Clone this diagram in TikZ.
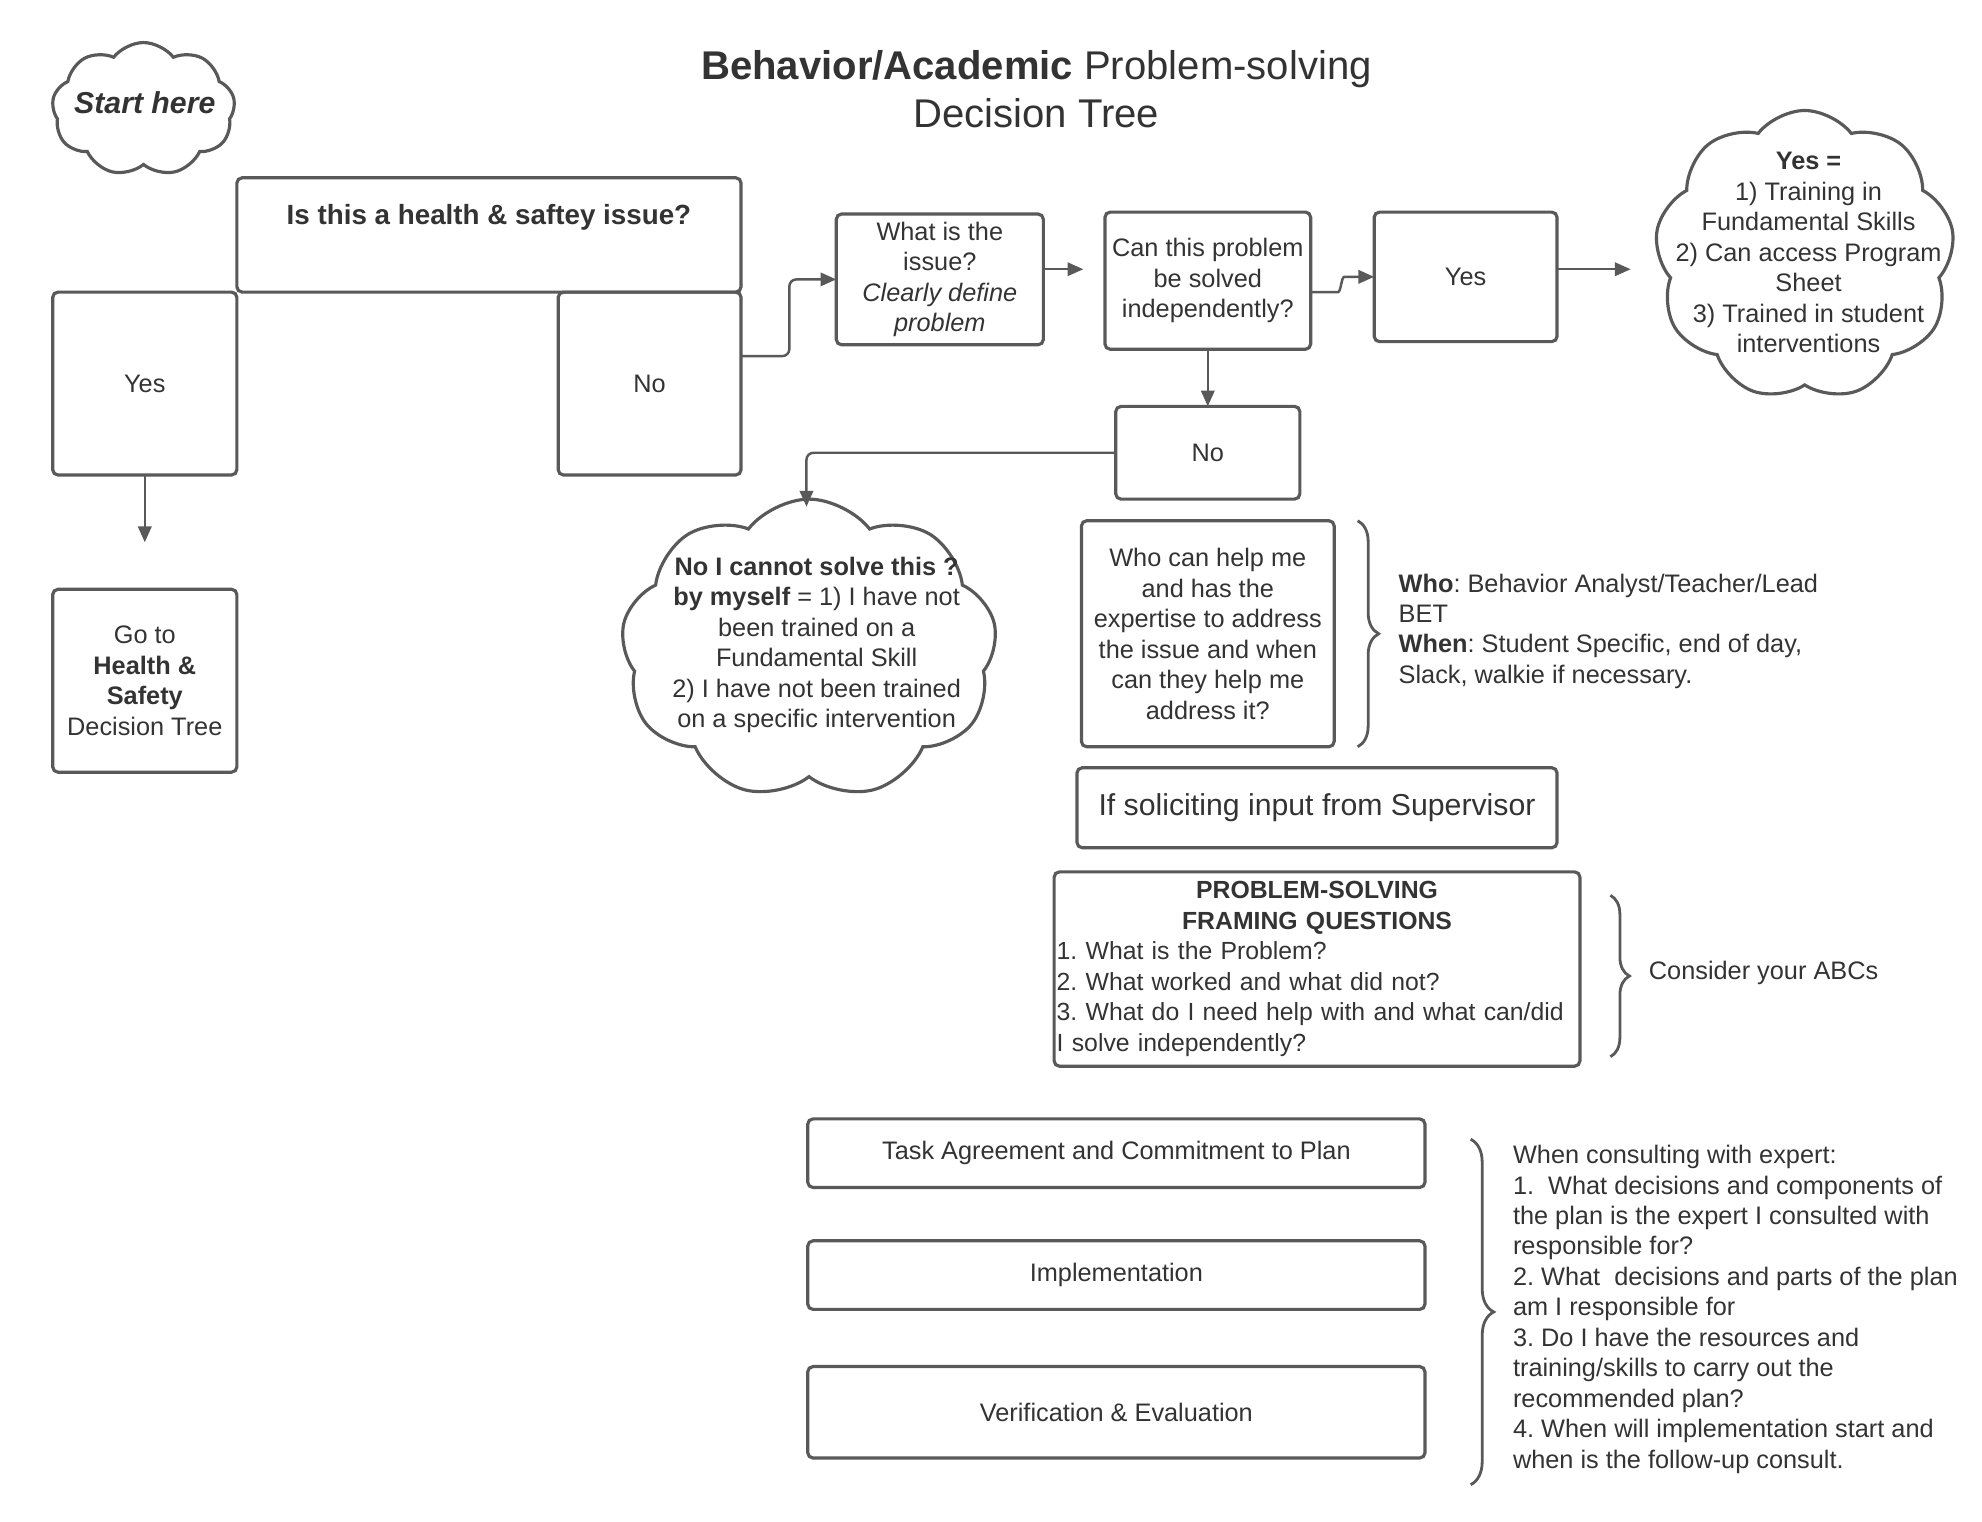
\documentclass[tikz,border=0pt]{standalone}
\usepackage{fontspec}
\setmainfont{Liberation Sans}
\usetikzlibrary{arrows.meta,calc,positioning,shapes.symbols,decorations.pathreplacing}
\newcommand{\dpx}{0.0127cm}
\newcommand{\txt}{\fontsize{7.2}{8.67}\selectfont}
\definecolor{linegray}{HTML}{595959}
\definecolor{textgray}{HTML}{333333}
\frenchspacing

\begin{document}
\begin{tikzpicture}[x=\dpx, y=-\dpx,
    every node/.style={text=textgray, font=\txt, inner sep=1pt},
    box/.style={draw=linegray, line width=0.9pt, rounded corners=1.5pt, align=center, outer sep=0pt},
    bubble/.style={draw=linegray, line width=0.9pt, cloud, cloud puffs=9, cloud puff arc=105, cloud ignores aspect, inner sep=0pt},
    arr/.style={draw=linegray, line width=0.7pt, -{Triangle[length=4.5pt,width=3.8pt]}, rounded corners=2pt},
    curly/.style={draw=linegray, line width=0.8pt, decorate}]
    \useasboundingbox (0,0) rectangle (1560.6,1198.4);

    % title and start
    \node[align=center, font=\fontsize{11.4}{13.7}\selectfont] (title) at (816,70) {\textbf{Behavior/Academic} Problem-solving\\Decision Tree};
    \node[bubble, minimum width=144*\dpx, minimum height=105*\dpx] (start) at (113,86) {};
    \node[font=\bfseries\itshape\fontsize{8.6}{10}\selectfont] (starttxt) at (114,81) {Start here};

    % health & safety question
    \node[box, minimum width=397*\dpx, minimum height=90*\dpx, label={[anchor=center, yshift=-31*\dpx, font=\bfseries\fontsize{7.9}{9.5}\selectfont]north:Is this a health \& saftey issue?}] (hs) at (385,185) {};
    \node[box, minimum width=145*\dpx, minimum height=144*\dpx, anchor=north east] (yes1) at (hs.south west) {Yes};
    \node[box, minimum width=144*\dpx, minimum height=144*\dpx, anchor=north east] (no1) at (hs.south east) {No};
    \node[box, minimum width=145*\dpx, minimum height=144*\dpx, below=90*\dpx of yes1] (goto) {Go to\\\textbf{Health \&}\\\textbf{Safety}\\Decision Tree};

    % problem definition
    \node[box, minimum width=163*\dpx, minimum height=103*\dpx] (issue) at (740,220) {What is the\\issue?\\\textit{Clearly define}\\\textit{problem}};
    \node[box, minimum width=162*\dpx, minimum height=108*\dpx] (can) at (951,221) {Can this problem\\be solved\\independently?};
    \node[box, minimum width=144*\dpx, minimum height=102*\dpx] (yes2) at (1154,218) {Yes};
    \node[bubble, minimum width=236*\dpx, minimum height=228*\dpx] (yescloud) at (1421,201) {};
    \node[align=center] (yestxt) at (1424,199) {\textbf{Yes =}\\1) Training in\\Fundamental Skills\\2) Can access Program\\Sheet\\3) Trained in student\\interventions};

    \node[box, minimum width=145*\dpx, minimum height=73*\dpx, below=45*\dpx of can] (no2) {No};
    \node[bubble, minimum width=296*\dpx, minimum height=236*\dpx] (nocloud) at (637,511) {};
    \node[align=center] (notxt) at (643,508) {\textbf{No I cannot solve this ?}\\\textbf{by myself} = 1) I have not\\been trained on a\\Fundamental Skill\\2) I have not been trained\\on a specific intervention};

    % who can help
    \node[box, minimum width=199*\dpx, minimum height=178*\dpx, below=17*\dpx of no2] (who) {Who can help me\\and has the\\expertise to address\\the issue and when\\can they help me\\address it?};
    \node[align=left, anchor=west] (whotxt) at (1098,497) {\textbf{Who}: Behavior Analyst/Teacher/Lead\\BET\\\textbf{When}: Student Specific, end of day,\\Slack, walkie if necessary.};
    \draw[curly, decoration={brace, amplitude=0.21cm}] (1069,410) -- (1069,588);

    \node[box, minimum width=378*\dpx, minimum height=63*\dpx, font=\fontsize{8.6}{10}\selectfont] (sup) at (1037,636) {If soliciting input from Supervisor};

    \node[box, align=left, text width=410*\dpx, inner xsep=2*\dpx, minimum height=153*\dpx, font=\fontsize{7.05}{8.67}\selectfont] (frame) at (1037,763)
        {{\centering\bfseries PROBLEM-SOLVING\\FRAMING QUESTIONS\par}
        1. What is the Problem?\\
        2. What worked and what did not?\\
        3. What do I need help with and what can/did\\
        I solve independently?};
    \draw[curly, decoration={brace, amplitude=0.19cm}] (1268,705) -- (1268,832);
    \node[anchor=west] (abc) at (1295,766) {Consider your ABCs};

    % plan steps
    \node[box, minimum width=486*\dpx, minimum height=54*\dpx] (task) at (879,908) {Task Agreement and Commitment to Plan};
    \node[box, minimum width=486*\dpx, minimum height=54*\dpx, below=42*\dpx of task] (impl) {Implementation};
    \node[box, minimum width=486*\dpx, minimum height=72*\dpx, below=45*\dpx of impl] (verif) {Verification \& Evaluation};
    \draw[curly, decoration={brace, amplitude=0.23cm}] (1158,897) -- (1158,1169);
    \node[align=left, anchor=west] (consult) at (1188,1031) {When consulting with expert:\\
        1.\ \ What decisions and components of\\
        the plan is the expert I consulted with\\
        responsible for?\\
        2. What\ \ decisions and parts of the plan\\
        am I responsible for\\
        3. Do I have the resources and\\
        training/skills to carry out the\\
        recommended plan?\\
        4. When will implementation start and\\
        when is the follow-up consult.};

    % connectors
    \coordinate (gotoin) at (114,427);
    \coordinate (canin) at (853,212);
    \coordinate (yescin) at (1284,212);
    \coordinate (nocin) at (635,399);
    \draw[arr] (yes1) -- (gotoin);
    \draw[arr] ($(no1.north east)!0.35!(no1.south east)$) -- ++(38,0) |- (issue.west);
    \draw[arr] (issue.east |- canin) -- (canin);
    \draw[arr] ([yshift=-9*\dpx]can.east) -- ++(16,0) to[out=0,in=180] ($(yes2.west)+(-18,0)$) -- (yes2.west);
    \draw[arr] (yes2.east |- yescin) -- (yescin);
    \draw[arr] (can) -- (no2);
    \draw[arr] (no2.west) -| (nocin);
\end{tikzpicture}
\end{document}
